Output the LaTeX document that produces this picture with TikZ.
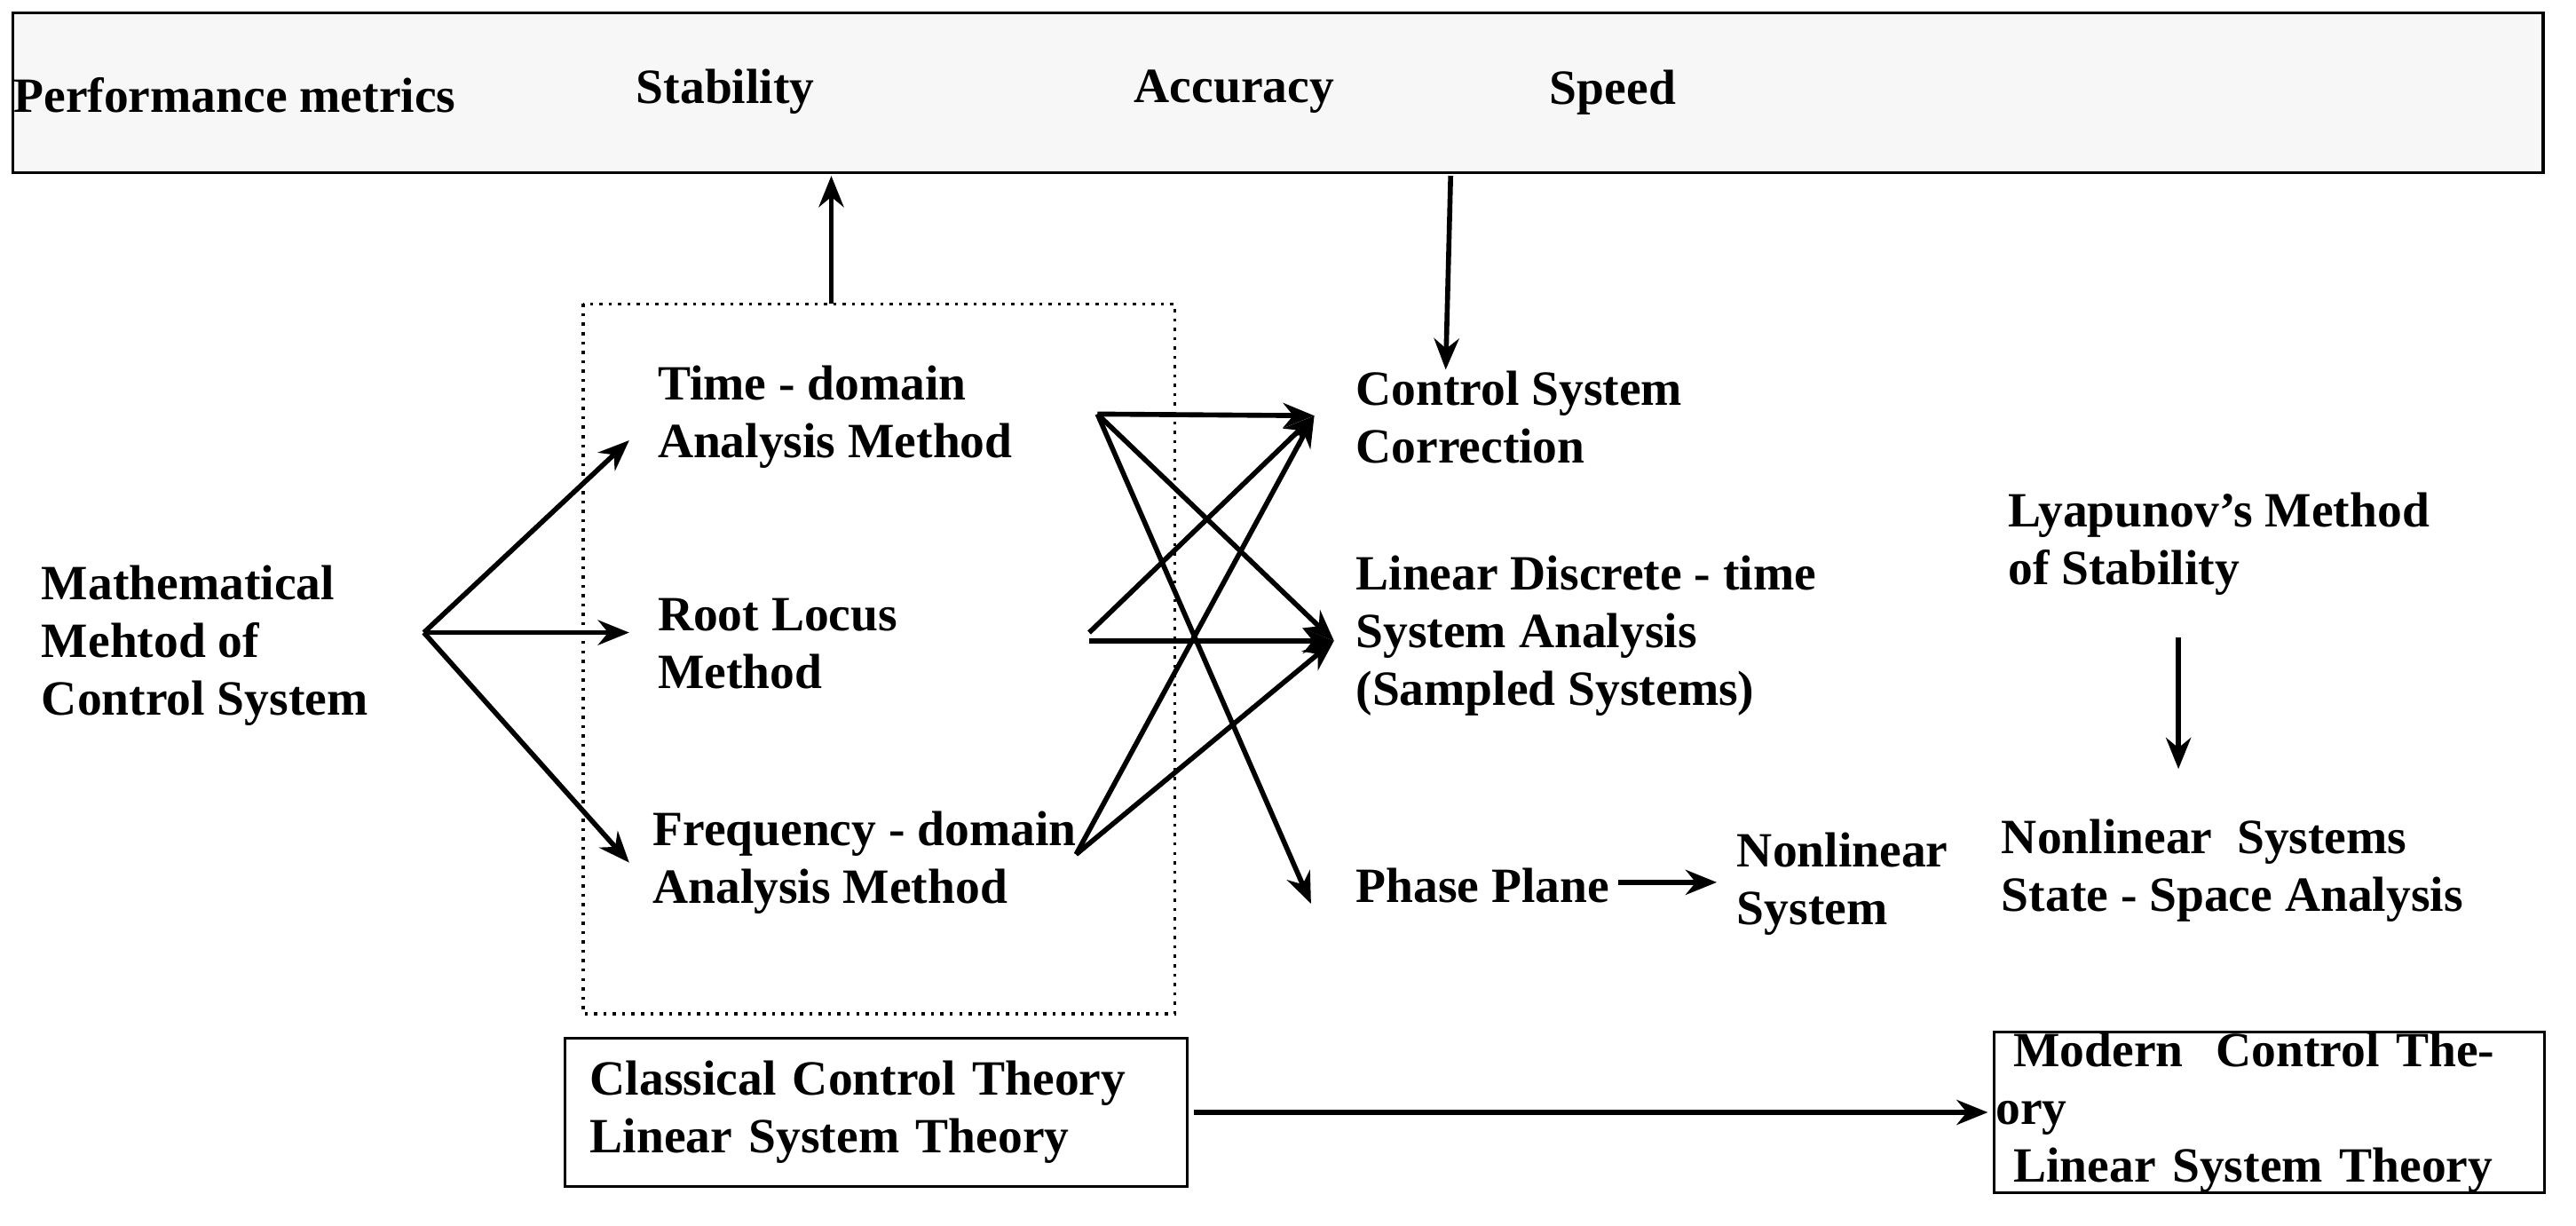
\documentclass[tikz,border=0pt]{standalone}
\usepackage{fontspec}
\setmainfont{Liberation Serif}
\usetikzlibrary{arrows.meta}
\begin{document}
\begin{tikzpicture}[x=0.01851cm,y=-0.01851cm,
  t/.style={font=\fontsize{15.8}{18.5}\selectfont\bfseries,align=left,inner sep=0pt,anchor=west},
  a/.style={line width=1.6pt,-{Stealth[length=10pt,width=8pt]}},
  bx/.style={draw,line width=0.9pt}]
\useasboundingbox (0,0) rectangle (1568,746);
\draw[bx,fill=gray!6] (8,8) rectangle (1548,105);
\node[t] (pm) at (8,58) {Performance metrics};
\node[t] (st) at (387,56) {Stability};
\node[t] (ac) at (690,56) {Accuracy};
\node[t] (sp) at (943,56) {Speed};
\coordinate (topU) at (506,107);
\coordinate (topD) at (883,107);
\draw[dotted,line width=1pt] (355,185) rectangle (715,617);
\coordinate (dbT) at (506,185);
\draw[a] (dbT) -- (topU);
\node[t] (math) at (25,393) {Mathematical\\Mehtod of\\Control System};
\node[t] (td) at (400,254) {Time - domain\\Analysis Method};
\node[t] (rl) at (400,392) {Root Locus\\Method};
\node[t] (fd) at (397,525) {Frequency - domain\\Analysis Method};
\node[t] (csc) at (825,254) {Control System\\Correction};
\node[t] (ld) at (825,387) {Linear Discrete - time\\System Analysis\\(Sampled Systems)};
\node[t] (pp) at (825,539) {Phase Plane};
\node[t] (ns) at (1057,538) {Nonlinear\\System};
\node[t] (ly) at (1222,331) {Lyapunov's Method\\of Stability};
\node[t] (nss) at (1218,530) {Nonlinear\ \ Systems\\State - Space Analysis};
\node[t,bx,inner sep=0pt,minimum width={379*0.01851cm},minimum height={90*0.01851cm},text width={370*0.01851cm},align=left] (cl) at (343,677) {\hspace*{0.2cm}Classical Control Theory\\\hspace*{0.2cm}Linear System Theory};
\node[t,bx,inner sep=0pt,minimum width={335*0.01851cm},minimum height={90*0.01851cm},text width={333*0.01851cm},align=left] (mo) at (1213,677) {\hspace*{0.2cm}Modern\ \ Control Theory\\\hspace*{0.2cm}Linear System Theory};
\coordinate (m0) at (258,385);
\draw[a] (m0) -- (383,268);
\draw[a] (m0) -- (383,385);
\draw[a] (m0) -- (383,525);
\coordinate (cscIn) at (880,225);
\draw[a] (topD) -- (cscIn);
\coordinate (t0) at (668,252);
\coordinate (r0) at (663,385);
\coordinate (r1) at (663,390);
\coordinate (f0) at (655,520);
\coordinate (cIn) at (800,253);
\coordinate (lIn) at (812,390);
\coordinate (pIn) at (798,550);
\draw[a] (t0) -- (cIn);
\draw[a] (t0) -- (lIn);
\draw[a] (t0) -- (pIn);
\draw[a] (r0) -- (cIn);
\draw[a] (r1) -- (lIn);
\draw[a] (f0) -- (cIn);
\draw[a] (f0) -- (lIn);
\coordinate (ppE) at (985,537);
\draw[a] (ppE) -- (1045,537);
\draw[a] (1326,388) -- (1326,468);
\draw[a] (cl.east) ++(3,0) -- (1210,677);
\end{tikzpicture}
\end{document}
